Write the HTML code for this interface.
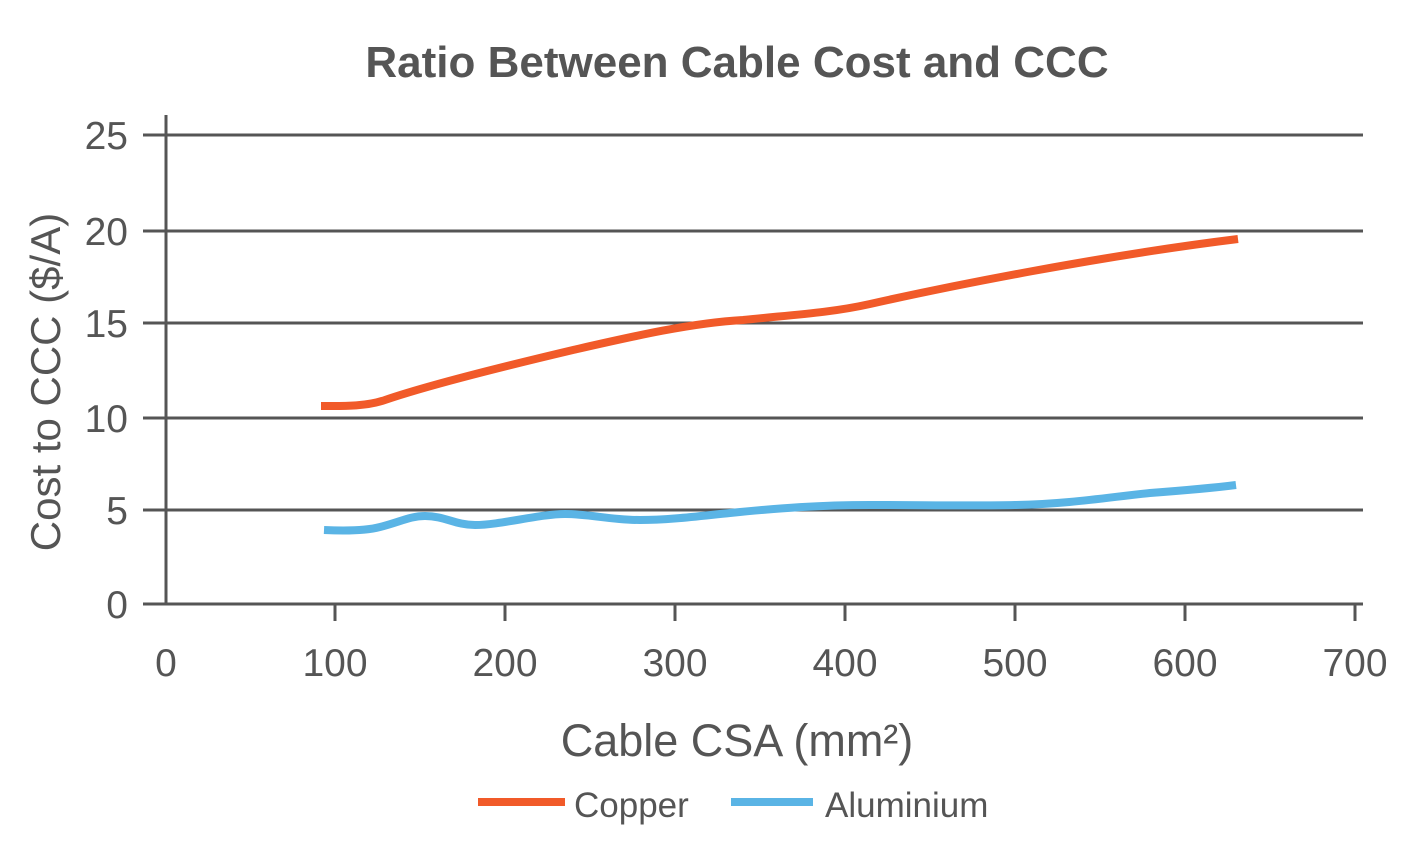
<!DOCTYPE html>
<html><head><meta charset="utf-8"><style>
html,body{margin:0;padding:0;background:#fff;}
svg{display:block;font-family:"Liberation Sans",sans-serif;}
</style></head><body>
<svg width="1412" height="863" viewBox="0 0 1412 863">
<text x="737" y="77" text-anchor="middle" font-size="44" font-weight="bold" fill="#555">Ratio Between Cable Cost and CCC</text>
<g stroke="#555" stroke-width="3">
<line x1="143" y1="135" x2="1363" y2="135"/>
<line x1="143" y1="231" x2="1363" y2="231"/>
<line x1="143" y1="323" x2="1363" y2="323"/>
<line x1="143" y1="418" x2="1363" y2="418"/>
<line x1="143" y1="510" x2="1363" y2="510"/>
<line x1="143" y1="604" x2="1363" y2="604"/>
<line x1="166" y1="115" x2="166" y2="605"/>
<line x1="335" y1="604" x2="335" y2="621"/>
<line x1="505" y1="604" x2="505" y2="621"/>
<line x1="675" y1="604" x2="675" y2="621"/>
<line x1="845" y1="604" x2="845" y2="621"/>
<line x1="1015" y1="604" x2="1015" y2="621"/>
<line x1="1185" y1="604" x2="1185" y2="621"/>
<line x1="1355" y1="604" x2="1355" y2="621"/>
</g>
<g font-size="39" fill="#555" text-anchor="end">
<text x="128" y="149">25</text>
<text x="128" y="245">20</text>
<text x="128" y="337">15</text>
<text x="128" y="432">10</text>
<text x="128" y="524">5</text>
<text x="128" y="618">0</text>
</g>
<g font-size="39" fill="#555" text-anchor="middle">
<text x="166" y="676">0</text>
<text x="335" y="676">100</text>
<text x="505" y="676">200</text>
<text x="675" y="676">300</text>
<text x="845" y="676">400</text>
<text x="1015" y="676">500</text>
<text x="1185" y="676">600</text>
<text x="1355" y="676">700</text>
</g>
<text x="737" y="756" text-anchor="middle" font-size="45" fill="#555">Cable CSA (mm²)</text>
<text transform="translate(60,382) rotate(-90)" text-anchor="middle" font-size="42" fill="#555">Cost to CCC ($/A)</text>
<g fill="none" stroke-width="8" stroke-linejoin="round" stroke-linecap="butt">
<path stroke="#f15a29" d="M321,406 C340,406 365,407 385,400 C420,388 480,372 573,350 C630,337 690,323 743,320 C790,315 830,313 870,304 C950,286 1100,256 1238,239"/>
<path stroke="#5ab4e5" d="M324,530 C345,531 365,531 380,527 C400,522 410,516 425,516 C445,516 455,525 475,525 C500,525 540,514 565,514 C590,514 610,520 640,520 C670,520 700,516 730,513 C780,508 820,505 870,505 C920,505 980,506 1015,505 C1070,504 1110,497 1150,493 C1190,490 1220,487 1236,485"/>
</g>
<line x1="478" y1="802" x2="565" y2="802" stroke="#f15a29" stroke-width="8"/>
<text x="574" y="817" font-size="35" fill="#555">Copper</text>
<line x1="731" y1="802" x2="813" y2="802" stroke="#5ab4e5" stroke-width="8"/>
<text x="825" y="817" font-size="35" fill="#555">Aluminium</text>
</svg>
</body></html>
